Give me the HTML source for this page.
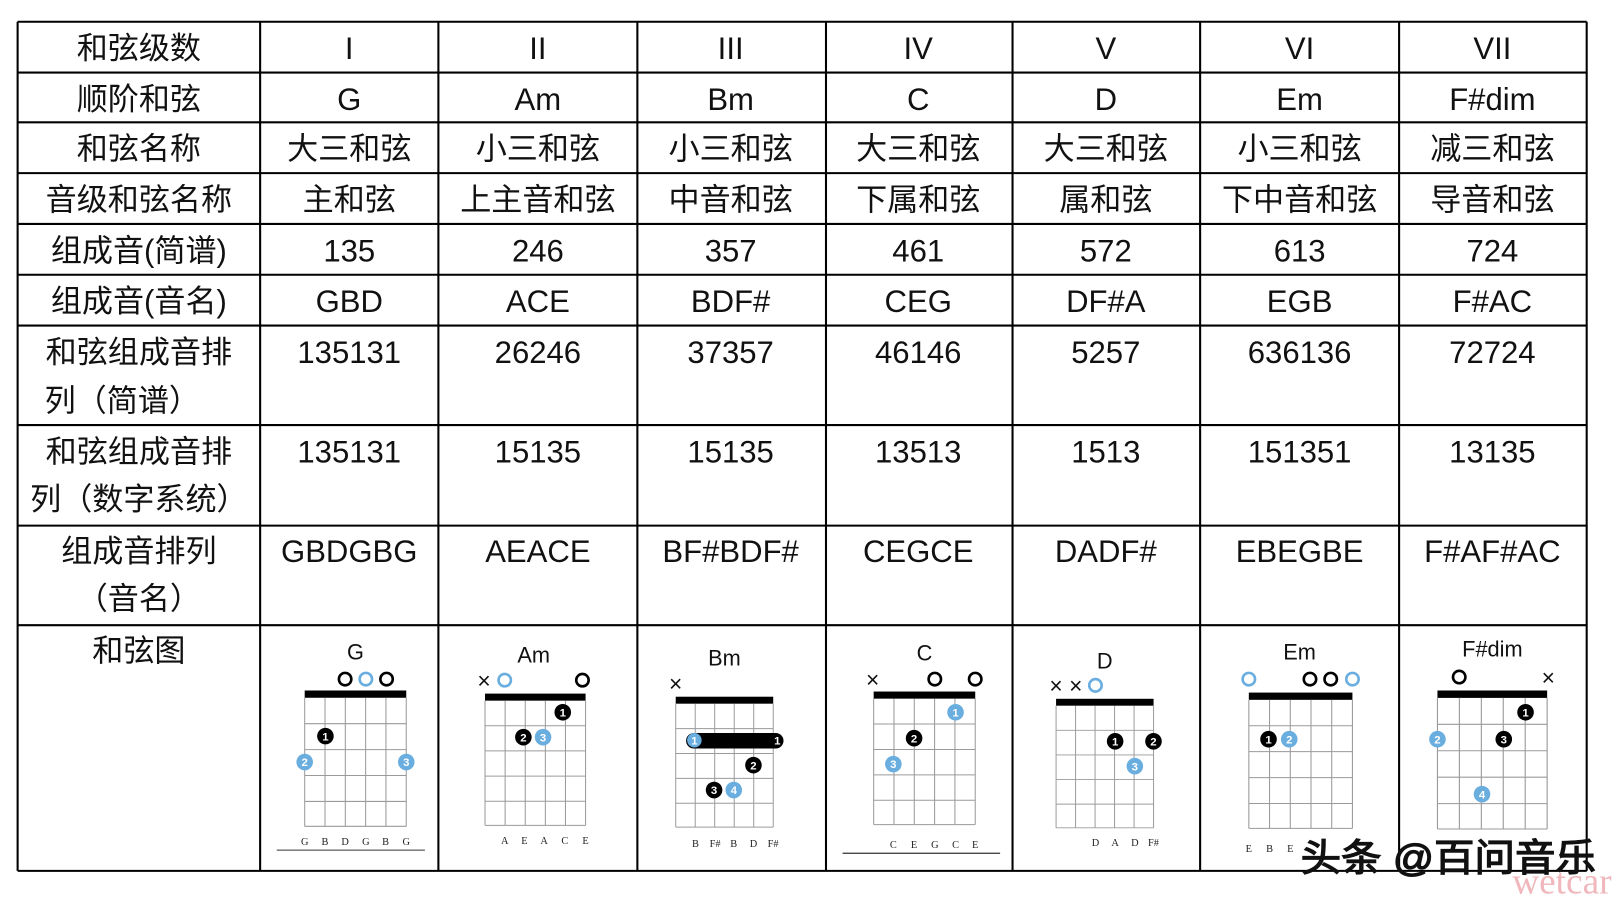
<!DOCTYPE html>
<html><head><meta charset="utf-8"><style>
html,body{margin:0;padding:0;background:#fff;}
svg{display:block;}
.t{font-family:"Liberation Sans","Noto Sans CJK SC",sans-serif;font-size:30px;fill:#111;text-anchor:middle;}
.c{font-family:"Liberation Sans",sans-serif;font-size:21px;fill:#111;text-anchor:middle;}
.n{font-family:"Liberation Serif",serif;font-size:10px;fill:#222;text-anchor:middle;}
.f{font-family:"Liberation Sans",sans-serif;font-size:11px;font-weight:bold;fill:#fff;text-anchor:middle;}
.x{font-family:"Liberation Sans",sans-serif;font-size:22px;fill:#111;text-anchor:middle;}
</style></head><body>
<svg width="1624" height="902" viewBox="0 0 1567 870" xmlns="http://www.w3.org/2000/svg" preserveAspectRatio="none">
<defs>
<g id="grid">
<rect x="0" y="0" width="98" height="7" fill="#000"/>
<g stroke="#9a9a9a" stroke-width="1" fill="none">
<line x1="0" y1="7" x2="0" y2="131"/><line x1="19.6" y1="7" x2="19.6" y2="131"/><line x1="39.2" y1="7" x2="39.2" y2="131"/><line x1="58.8" y1="7" x2="58.8" y2="131"/><line x1="78.4" y1="7" x2="78.4" y2="131"/><line x1="98" y1="7" x2="98" y2="131"/>
<line x1="0" y1="32" x2="98" y2="32"/><line x1="0" y1="57" x2="98" y2="57"/><line x1="0" y1="82" x2="98" y2="82"/><line x1="0" y1="107" x2="98" y2="107"/><line x1="0" y1="131" x2="98" y2="131"/>
</g></g>
</defs>
<rect width="1567" height="870" fill="#fff"/>
<g stroke="#000" stroke-width="2">
<line x1="17" y1="21" x2="17" y2="840"/><line x1="251" y1="21" x2="251" y2="840"/><line x1="423" y1="21" x2="423" y2="840"/><line x1="615" y1="21" x2="615" y2="840"/><line x1="797" y1="21" x2="797" y2="840"/><line x1="977" y1="21" x2="977" y2="840"/><line x1="1158" y1="21" x2="1158" y2="840"/><line x1="1350" y1="21" x2="1350" y2="840"/><line x1="1531" y1="21" x2="1531" y2="840"/>
<line x1="17" y1="21" x2="1531" y2="21"/><line x1="17" y1="70" x2="1531" y2="70"/><line x1="17" y1="118" x2="1531" y2="118"/><line x1="17" y1="167" x2="1531" y2="167"/><line x1="17" y1="216" x2="1531" y2="216"/><line x1="17" y1="265" x2="1531" y2="265"/><line x1="17" y1="314" x2="1531" y2="314"/><line x1="17" y1="410" x2="1531" y2="410"/><line x1="17" y1="507" x2="1531" y2="507"/><line x1="17" y1="603" x2="1531" y2="603"/><line x1="17" y1="840" x2="1531" y2="840"/>
</g>
<g class="t">
<text x="134" y="57">和弦级数</text><text x="337" y="57">I</text><text x="519" y="57">II</text><text x="705" y="57">III</text><text x="886" y="57">IV</text><text x="1067" y="57">V</text><text x="1254" y="57">VI</text><text x="1440" y="57">VII</text>
<text x="134" y="106">顺阶和弦</text><text x="337" y="106">G</text><text x="519" y="106">Am</text><text x="705" y="106">Bm</text><text x="886" y="106">C</text><text x="1067" y="106">D</text><text x="1254" y="106">Em</text><text x="1440" y="106">F#dim</text>
<text x="134" y="154">和弦名称</text><text x="337" y="154">大三和弦</text><text x="519" y="154">小三和弦</text><text x="705" y="154">小三和弦</text><text x="886" y="154">大三和弦</text><text x="1067" y="154">大三和弦</text><text x="1254" y="154">小三和弦</text><text x="1440" y="154">减三和弦</text>
<text x="134" y="203">音级和弦名称</text><text x="337" y="203">主和弦</text><text x="519" y="203">上主音和弦</text><text x="705" y="203">中音和弦</text><text x="886" y="203">下属和弦</text><text x="1067" y="203">属和弦</text><text x="1254" y="203">下中音和弦</text><text x="1440" y="203">导音和弦</text>
<text x="134" y="252">组成音(简谱)</text><text x="337" y="252">135</text><text x="519" y="252">246</text><text x="705" y="252">357</text><text x="886" y="252">461</text><text x="1067" y="252">572</text><text x="1254" y="252">613</text><text x="1440" y="252">724</text>
<text x="134" y="301">组成音(音名)</text><text x="337" y="301">GBD</text><text x="519" y="301">ACE</text><text x="705" y="301">BDF#</text><text x="886" y="301">CEG</text><text x="1067" y="301">DF#A</text><text x="1254" y="301">EGB</text><text x="1440" y="301">F#AC</text>
<text x="134" y="350">和弦组成音排</text><text x="118" y="397">列（简谱）</text><text x="337" y="350">135131</text><text x="519" y="350">26246</text><text x="705" y="350">37357</text><text x="886" y="350">46146</text><text x="1067" y="350">5257</text><text x="1254" y="350">636136</text><text x="1440" y="350">72724</text>
<text x="134" y="446">和弦组成音排</text><text x="134" y="492">列（数字系统）</text><text x="337" y="446">135131</text><text x="519" y="446">15135</text><text x="705" y="446">15135</text><text x="886" y="446">13513</text><text x="1067" y="446">1513</text><text x="1254" y="446">151351</text><text x="1440" y="446">13135</text>
<text x="134" y="542">组成音排列</text><text x="134" y="588">（音名）</text><text x="337" y="542">GBDGBG</text><text x="519" y="542">AEACE</text><text x="705" y="542">BF#BDF#</text><text x="886" y="542">CEGCE</text><text x="1067" y="542">DADF#</text><text x="1254" y="542">EBEGBE</text><text x="1440" y="542">F#AF#AC</text>
<text x="134" y="638">和弦图</text>
</g>
<!-- G -->
<use href="#grid" transform="translate(294,666)"/>
<text class="c" x="343" y="636">G</text>
<g fill="none" stroke-width="2.5"><circle cx="333" cy="655" r="6" stroke="#000"/><circle cx="353" cy="655" r="6" stroke="#6aaee0"/><circle cx="373" cy="655" r="6" stroke="#000"/></g>
<circle cx="314" cy="710" r="8" fill="#000"/><text class="f" x="314" y="714">1</text>
<circle cx="294" cy="735" r="8" fill="#6aaee0"/><text class="f" x="294" y="739">2</text>
<circle cx="392" cy="735" r="8" fill="#6aaee0"/><text class="f" x="392" y="739">3</text>
<g class="n"><text x="294" y="815">G</text><text x="313.6" y="815">B</text><text x="333" y="815">D</text><text x="353" y="815">G</text><text x="372" y="815">B</text><text x="392" y="815">G</text></g>
<line x1="267" y1="820" x2="410" y2="820" stroke="#333" stroke-width="1"/>
<!-- Am -->
<use href="#grid" transform="translate(468,669) scale(0.99,0.97)"/>
<text class="c" x="515" y="639">Am</text>
<text class="x" x="467" y="664">×</text>
<g fill="none" stroke-width="2.5"><circle cx="487" cy="656" r="6" stroke="#6aaee0"/><circle cx="562" cy="656" r="6" stroke="#000"/></g>
<circle cx="543" cy="687" r="8" fill="#000"/><text class="f" x="543" y="691">1</text>
<circle cx="505" cy="711" r="8" fill="#000"/><text class="f" x="505" y="715">2</text>
<circle cx="524" cy="711" r="8" fill="#6aaee0"/><text class="f" x="524" y="715">3</text>
<g class="n"><text x="487" y="814">A</text><text x="506" y="814">E</text><text x="525" y="814">A</text><text x="545" y="814">C</text><text x="565" y="814">E</text></g>
<!-- Bm -->
<use href="#grid" transform="translate(652,672) scale(0.96,0.96)"/>
<text class="c" x="699" y="642">Bm</text>
<text class="x" x="652" y="667">×</text>
<rect x="662" y="707" width="94" height="15" rx="7.5" fill="#000"/>
<circle cx="670" cy="714" r="7" fill="#6aaee0"/><text class="f" x="670" y="718">1</text><text class="f" x="750" y="718">1</text>
<circle cx="727" cy="738" r="8" fill="#000"/><text class="f" x="727" y="742">2</text>
<circle cx="689" cy="762" r="8" fill="#000"/><text class="f" x="689" y="766">3</text>
<circle cx="708" cy="762" r="8" fill="#6aaee0"/><text class="f" x="708" y="766">4</text>
<g class="n"><text x="671" y="817">B</text><text x="690" y="817">F#</text><text x="708" y="817">B</text><text x="727" y="817">D</text><text x="746" y="817">F#</text></g>
<!-- C -->
<use href="#grid" transform="translate(843,667) scale(1,0.98)"/>
<text class="c" x="892" y="637">C</text>
<text class="x" x="842" y="663">×</text>
<g fill="none" stroke-width="2.5" stroke="#000"><circle cx="902" cy="655" r="6"/><circle cx="941" cy="655" r="6"/></g>
<circle cx="922" cy="687" r="8" fill="#6aaee0"/><text class="f" x="922" y="691">1</text>
<circle cx="882" cy="712" r="8" fill="#000"/><text class="f" x="882" y="716">2</text>
<circle cx="862" cy="737" r="8" fill="#6aaee0"/><text class="f" x="862" y="741">3</text>
<g class="n"><text x="862" y="818">C</text><text x="882" y="818">E</text><text x="902" y="818">G</text><text x="922" y="818">C</text><text x="941" y="818">E</text></g>
<line x1="813" y1="823" x2="965" y2="823" stroke="#333" stroke-width="1.2"/>
<!-- D -->
<use href="#grid" transform="translate(1019,674) scale(0.96,0.95)"/>
<text class="c" x="1066" y="645">D</text>
<text class="x" x="1019" y="669">×</text><text class="x" x="1038" y="669">×</text>
<circle cx="1057" cy="661" r="6" fill="none" stroke="#6aaee0" stroke-width="2.5"/>
<circle cx="1076" cy="715" r="8" fill="#000"/><text class="f" x="1076" y="719">1</text>
<circle cx="1113" cy="715" r="8" fill="#000"/><text class="f" x="1113" y="719">2</text>
<circle cx="1095" cy="739" r="8" fill="#6aaee0"/><text class="f" x="1095" y="743">3</text>
<g class="n"><text x="1057" y="816">D</text><text x="1076" y="816">A</text><text x="1095" y="816">D</text><text x="1113" y="816">F#</text></g>
<!-- Em -->
<use href="#grid" transform="translate(1205,668) scale(1.02,1.0)"/>
<text class="c" x="1254" y="636">Em</text>
<g fill="none" stroke-width="2.5"><circle cx="1205" cy="655" r="6" stroke="#6aaee0"/><circle cx="1264" cy="655" r="6" stroke="#000"/><circle cx="1284" cy="655" r="6" stroke="#000"/><circle cx="1305" cy="655" r="6" stroke="#6aaee0"/></g>
<circle cx="1224" cy="713" r="8" fill="#000"/><text class="f" x="1224" y="717">1</text>
<circle cx="1244" cy="713" r="8" fill="#6aaee0"/><text class="f" x="1244" y="717">2</text>
<g class="n"><text x="1205" y="822">E</text><text x="1225" y="822">B</text><text x="1245" y="822">E</text></g>
<!-- F#dim -->
<use href="#grid" transform="translate(1387,666) scale(1.08,1.02)"/>
<text class="c" x="1440" y="633">F#dim</text>
<circle cx="1408" cy="653" r="6" fill="none" stroke="#000" stroke-width="2.5"/>
<text class="x" x="1494" y="661">×</text>
<circle cx="1472" cy="687" r="8" fill="#000"/><text class="f" x="1472" y="691">1</text>
<circle cx="1387" cy="713" r="8" fill="#6aaee0"/><text class="f" x="1387" y="717">2</text>
<circle cx="1451" cy="713" r="8" fill="#000"/><text class="f" x="1451" y="717">3</text>
<circle cx="1430" cy="766" r="8" fill="#6aaee0"/><text class="f" x="1430" y="770">4</text>
<!-- watermark -->
<text x="1555" y="862" font-family="Liberation Serif,serif" font-size="36" fill="#f0b8bc" text-anchor="end">wetcar</text>
<text x="1255" y="840" font-family="Liberation Sans,'Noto Sans CJK SC',sans-serif" font-size="37" textLength="285" lengthAdjust="spacingAndGlyphs" fill="#111" stroke="#111" stroke-width="1.2">头条 @百问音乐</text>
</svg>
</body></html>
